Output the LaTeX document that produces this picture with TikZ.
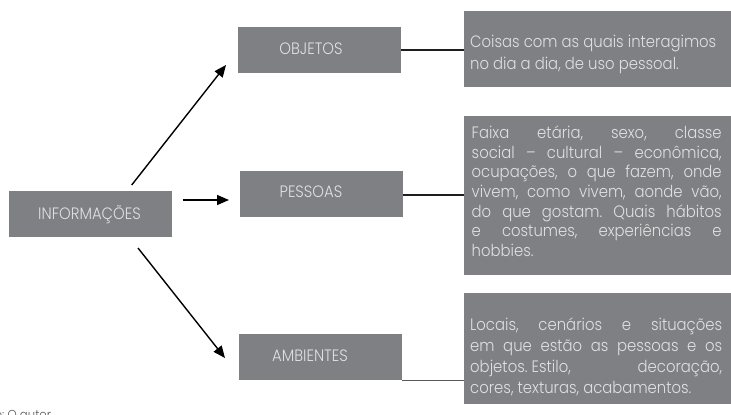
\documentclass[tikz,border=0pt]{standalone}
\usepackage{fontspec}
\IfFontExistsTF{Poppins Light}
  {\setmainfont{Poppins Light}[FakeStretch=0.9]}
  {\setmainfont{Poppins}[FakeStretch=0.9]}
\usetikzlibrary{arrows.meta}
\frenchspacing

\definecolor{boxgray}{RGB}{127,128,132}
\definecolor{boxtext}{RGB}{224,224,224}
\definecolor{linkgray}{RGB}{30,30,30}
\definecolor{notegray}{RGB}{90,90,90}

% one justified line spread across the full width of its parbox
\newcommand\jline[1]{\makebox[\linewidth][s]{#1}}

\tikzset{
  catbox/.style={fill=boxgray, draw=none, inner sep=0pt, minimum width=163pt, minimum height=46pt},
  infobox/.style={fill=boxgray, draw=none, inner sep=0pt},
  catlabel/.style={text=boxtext, inner sep=0pt, anchor=base, font=\fontsize{16.5}{18}\selectfont},
  infotext/.style={text=boxtext, inner sep=0pt, anchor=base west},
  arrowline/.style={line width=1.4pt, draw=black, -{Triangle[length=12pt,width=10pt]}},
  link/.style={line width=1.4pt, draw=linkgray},
  thinlink/.style={line width=1pt, draw=notegray}
}

\begin{document}
\begin{tikzpicture}[x=1pt, y=-1pt]
\useasboundingbox (0,0) rectangle (731,415);
\clip (0,0) rectangle (731,415);

% category boxes
\node[catbox] (info) at (90.5,213.5) {};
\node[catbox] (obj)  at (319.5,50) {};
\node[catbox] (pes)  at (321.5,194) {};
\node[catbox] (amb)  at (320.5,357) {};

\node[catlabel] (infolabel) at (89.5,219) {INFORMAÇÕES};
\node[catlabel] (objlabel)  at (311,54) {OBJETOS};
\node[catlabel] (peslabel)  at (311,197.5) {PESSOAS};
\node[catlabel] (amblabel)  at (310,361) {AMBIENTES};

% description boxes
\node[infobox, minimum width=267pt, minimum height=76pt]  (objdesc) at (597.5,49) {};
\node[infobox, minimum width=267pt, minimum height=159pt] (pesdesc) at (597.5,195.5) {};
\node[infobox, minimum width=267pt, minimum height=111pt] (ambdesc) at (597.5,348.5) {};

\node[infotext, font=\fontsize{16.5}{22}\selectfont] (objtext) at (470,47)
  {\parbox[t]{258pt}{Coisas com as quais interagimos\\no dia a dia, de uso pessoal.}};

\node[infotext, font=\fontsize{16.5}{19.7}\selectfont] (pestext) at (471.5,138.3)
  {\parbox[t]{250pt}{%
    \jline{Faixa etária, sexo, classe}\\
    \jline{social – cultural – econômica,}\\
    \jline{ocupações, o que fazem, onde}\\
    \jline{vivem, como vivem, aonde vão,}\\
    \jline{do que gostam. Quais hábitos}\\
    \jline{e costumes, experiências e}\\
    hobbies.}};

\node[infotext, font=\fontsize{16.5}{21}\selectfont] (ambtext) at (470,330)
  {\parbox[t]{252pt}{%
    \jline{Locais, cenários e situações}\\
    \jline{em que estão as pessoas e os}\\
    \hbox to \linewidth{objetos. Estilo,\hfill decoração,}\\
    cores, texturas, acabamentos.}};

% arrows from the central box
\coordinate (upstart) at (131.7,185);
\coordinate (uptip)   at (226,65);
\coordinate (midstart) at (182.7,200);
\coordinate (midtip)   at (229,200);
\coordinate (downstart) at (138,248);
\coordinate (downtip)   at (225,358);
\draw[arrowline] (upstart) -- (uptip);
\draw[arrowline] (midstart) -- (midtip);
\draw[arrowline] (downstart) -- (downtip);

% links to the descriptions
\draw[link] (obj.east) -- (obj.east -| objdesc.west);
\draw[link] ([yshift=-1pt]pes.east) -- ([yshift=-1pt]pes.east -| pesdesc.west);
\draw[thinlink] (amb.south east) -- (amb.south east -| ambdesc.west);

% source note, running off the lower left corner
\node[anchor=base west, inner sep=0pt, text=notegray, font=\fontsize{13}{15}\selectfont] (source) at (2,419) {\llap{Fonte}: O autor};
\end{tikzpicture}
\end{document}
